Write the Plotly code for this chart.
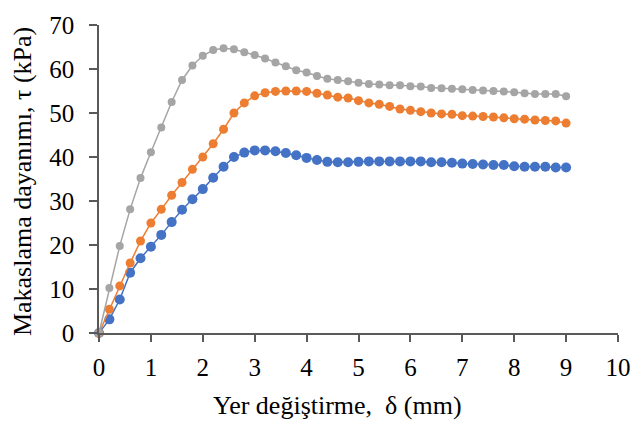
import plotly.graph_objects as go

x_mm = [round(i * 0.2, 1) for i in range(46)]

tau_gray = [0, 10.2, 19.8, 28.1, 35.2, 41.1, 46.7, 52.5, 57.5, 60.8, 63.0, 64.3, 64.7, 64.5,
            63.8, 63.2, 62.4, 61.5, 60.6, 59.7, 59.2, 58.4, 57.8, 57.5, 57.2, 56.9, 56.6, 56.5,
            56.3, 56.3, 56.1, 56.0, 55.7, 55.6, 55.5, 55.4, 55.2, 55.1, 55.0, 54.9, 54.7, 54.5,
            54.3, 54.3, 54.3, 53.8]
tau_orange = [0, 5.4, 10.7, 15.9, 20.9, 25.0, 28.1, 31.3, 34.2, 37.2, 40.0, 43.0, 46.3, 50.0,
              52.3, 53.9, 54.6, 54.9, 55.0, 55.0, 54.9, 54.5, 54.1, 53.6, 53.4, 52.8, 52.3, 52.0,
              51.5, 50.9, 50.6, 50.3, 50.0, 49.8, 49.7, 49.4, 49.3, 49.2, 49.1, 48.9, 48.7, 48.6,
              48.4, 48.3, 48.2, 47.7]
tau_blue = [0, 3.1, 7.6, 13.7, 17.0, 19.6, 22.3, 25.2, 28.0, 30.4, 32.7, 35.3, 37.8, 40.0,
            41.0, 41.5, 41.5, 41.3, 40.9, 40.4, 39.8, 39.3, 38.9, 38.8, 38.8, 38.9, 39.0, 39.0,
            39.0, 39.0, 39.0, 39.0, 38.8, 38.8, 38.7, 38.5, 38.4, 38.3, 38.2, 38.2, 37.9, 37.8,
            37.8, 37.8, 37.6, 37.6]

x_ticks = list(range(0, 11))
y_ticks = list(range(0, 71, 10))

x_title = "Yer değiştirme,  δ (mm)"
y_title = "Makaslama dayanımı, τ (kPa)"

font_family = "Liberation Serif, Times New Roman, serif"
axis_col = "#595959"

W, H = 643, 432
L, R, T, B = 99, 17, 19, 99

fig = go.Figure()
series = [
    (tau_blue, "#4472C4", 10),
    (tau_orange, "#ED7D31", 9),
    (tau_gray, "#A5A5A5", 8),
]
for vals, col, ms in series:
    fig.add_trace(go.Scatter(
        x=x_mm, y=vals, mode="lines+markers",
        line=dict(color=col, width=1.5),
        marker=dict(color=col, size=ms),
        cliponaxis=False, showlegend=False,
    ))

pw = W - L - R
ph = H - T - B
fig.update_layout(
    width=W, height=H,
    margin=dict(l=L, r=R, t=T, b=B),
    paper_bgcolor="white", plot_bgcolor="white",
    font=dict(family=font_family, size=25, color="black"),
    annotations=[
        dict(text=x_title, xref="paper", yref="paper",
             x=(341 - L) / pw, y=-(407 - (H - B)) / ph,
             xanchor="center", yanchor="middle", showarrow=False,
             font=dict(size=26)),
        dict(text=y_title, xref="paper", yref="paper",
             x=-(L - 22) / pw, y=((H - B) - 179) / ph,
             xanchor="center", yanchor="middle", showarrow=False, textangle=-90,
             font=dict(size=26)),
    ],
)
fig.update_xaxes(
    range=[0, 10], tickvals=x_ticks, ticktext=[str(v) for v in x_ticks],
    showgrid=False, zeroline=False, showline=True, linecolor=axis_col, linewidth=1.5,
    ticks="outside", ticklen=7, tickcolor=axis_col, tickwidth=1.5, ticklabelstandoff=4,
)
fig.update_yaxes(
    range=[0, 70], tickvals=y_ticks, ticktext=[str(v) for v in y_ticks],
    showgrid=False, zeroline=False, showline=True, linecolor=axis_col, linewidth=1.5,
    ticks="outside", ticklen=8, tickcolor=axis_col, tickwidth=1.5, ticklabelstandoff=10,
)

fig.write_html("out.html")
